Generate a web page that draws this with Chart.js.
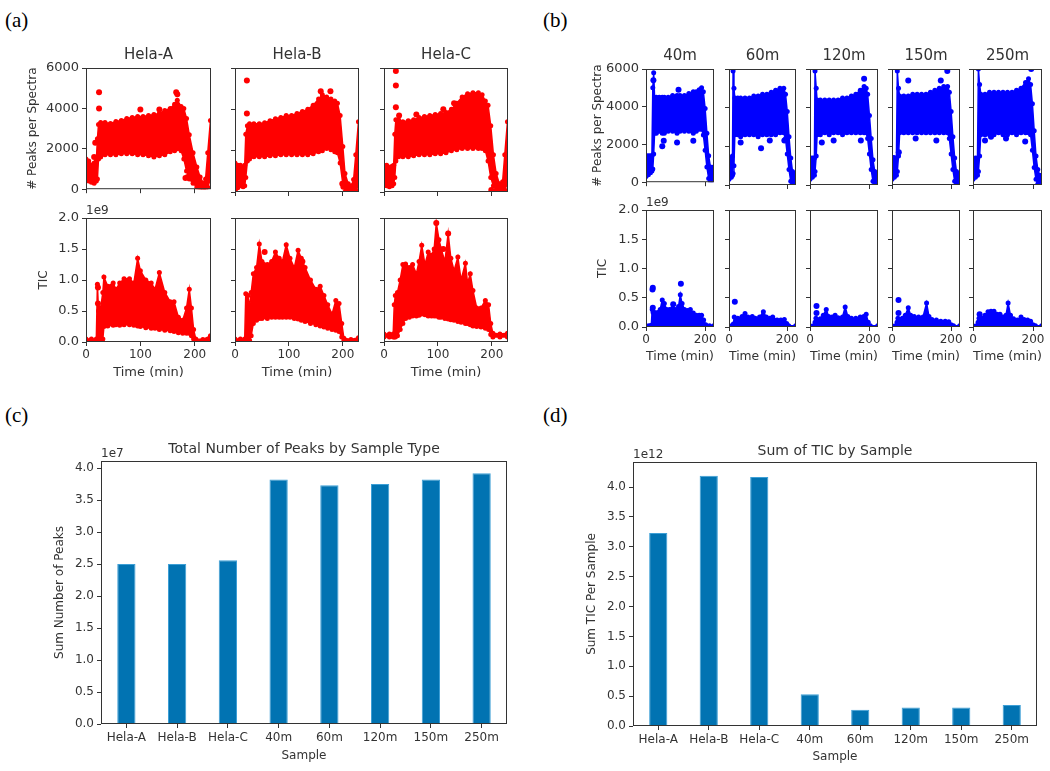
<!DOCTYPE html>
<html>
<head>
<meta charset="utf-8">
<script src="https://cdn.jsdelivr.net/npm/chart.js@4"></script>
<style>
  body { margin: 0; background: #fff; width: 1050px; height: 771px; position: relative; overflow: hidden; }
  canvas { position: absolute; }
  .tag { position: absolute; font-family: "Liberation Serif", serif; font-size: 21px; color: #000; }
</style>
</head>
<body>
<div class="tag" style="left:5px;top:8px">(a)</div>
<div class="tag" style="left:543px;top:8px">(b)</div>
<div class="tag" style="left:5px;top:403px">(c)</div>
<div class="tag" style="left:543px;top:403px">(d)</div>
<script>
// ---- data ----
// scan panels: [time (min), lower edge, upper edge] of the dense point cloud
const helaA_peaks = [[0,500,1500],[5,400,1400],[10,350,1200],[15,300,1300],[19,400,1400],[21,500,2500],[23,1500,3200],[27,1600,3300],[35,1700,3300],[45,1700,3250],[55,1700,3350],[65,1750,3400],[75,1750,3500],[85,1750,3550],[95,1700,3600],[105,1700,3600],[115,1650,3650],[125,1600,3700],[135,1650,3750],[145,1700,3900],[155,1850,4000],[163,1900,4200],[168,2000,4400],[175,1900,4100],[180,1500,4000],[185,900,3500],[190,500,2700],[197,300,1800],[204,100,1100],[210,0,600],[216,0,300],[220,0,500],[224,100,1800],[229,500,3400]];
const helaA_peaks_out = [[17,2300],[15,1600],[24,4800],[24,4000],[100,3950],[135,3950],[166,4800],[168,4700],[183,550],[187,600]];
const helaB_peaks = [[0,100,1400],[5,200,1300],[10,300,1300],[15,250,1200],[18,300,1300],[20,700,2800],[23,1500,3200],[27,1600,3300],[35,1700,3300],[45,1700,3300],[55,1700,3350],[65,1750,3450],[75,1750,3550],[85,1800,3600],[95,1800,3700],[105,1800,3700],[115,1800,3800],[125,1800,3900],[135,1800,4000],[145,1850,4200],[155,1950,4500],[162,2000,4700],[170,2100,4600],[178,2050,4500],[185,1950,4400],[190,1900,4300],[195,1400,3700],[200,400,2200],[204,0,900],[210,0,400],[216,0,300],[220,0,600],[224,100,1800],[229,300,3400]];
const helaB_peaks_out = [[22,5400],[22,3800],[159,4880],[177,4880],[0,150],[199,400],[201,250]];
const helaC_peaks = [[0,300,1300],[5,300,1300],[10,250,1200],[15,300,1250],[18,400,1300],[20,700,2800],[22,1500,3500],[27,1700,3500],[35,1700,3400],[45,1700,3450],[55,1750,3500],[65,1800,3600],[75,1800,3650],[85,1800,3700],[95,1850,3750],[105,1850,3800],[115,1900,3850],[125,2000,4000],[135,2050,4300],[145,2100,4600],[155,2100,4750],[165,2100,4800],[175,2100,4800],[182,2100,4700],[188,2000,4400],[193,1500,4200],[198,700,3200],[203,300,1800],[208,100,900],[214,0,400],[220,0,500],[224,100,1800],[229,400,3400]];
const helaC_peaks_out = [[22,5850],[22,5150],[22,4100],[28,3700],[60,3750],[110,4000],[130,4300],[199,100]];

const helaA_tic = [[0,0.02,0.05],[10,0.02,0.05],[19,0.02,0.05],[21,0.02,0.93],[23,0.02,0.5],[27,0.04,0.55],[31,0.05,0.8],[33,0.25,1.05],[40,0.26,0.9],[50,0.27,0.95],[55,0.28,0.85],[62,0.27,0.95],[70,0.28,1.02],[80,0.28,1.02],[88,0.27,0.95],[95,0.26,1.35],[100,0.25,1.15],[110,0.23,1.0],[120,0.22,0.95],[127,0.22,0.85],[135,0.2,1.12],[145,0.19,0.8],[155,0.18,0.65],[162,0.17,0.65],[170,0.15,0.4],[178,0.14,0.35],[185,0.14,0.55],[190,0.14,0.85],[194,0.1,0.55],[198,0.05,0.2],[202,0.02,0.05],[215,0.02,0.04],[229,0.03,0.1]];
const helaA_tic_out = [[22,0.88],[22,0.62]];
const helaB_tic = [[0,0.02,0.05],[10,0.02,0.05],[18,0.02,0.05],[20,0.02,0.78],[24,0.02,0.75],[27,0.03,0.55],[30,0.1,0.8],[34,0.3,1.1],[40,0.35,1.2],[45,0.38,1.58],[50,0.38,1.3],[60,0.38,1.25],[68,0.4,1.3],[75,0.4,1.45],[82,0.4,1.35],[88,0.4,1.3],[95,0.4,1.57],[102,0.4,1.35],[110,0.38,1.2],[117,0.37,1.48],[123,0.35,1.35],[130,0.33,1.2],[140,0.3,1.0],[150,0.28,0.85],[158,0.26,0.9],[165,0.24,0.75],[172,0.22,0.6],[180,0.2,0.45],[187,0.19,0.67],[193,0.17,0.62],[198,0.08,0.3],[202,0.02,0.06],[215,0.02,0.04],[229,0.02,0.07]];
const helaB_tic_out = [[55,1.45],[125,1.3]];
const helaC_tic = [[0,0.08,0.13],[10,0.08,0.13],[17,0.08,0.13],[19,0.08,0.6],[21,0.08,0.75],[25,0.1,0.8],[30,0.2,1.0],[35,0.3,1.25],[40,0.38,1.26],[47,0.4,1.2],[53,0.42,1.25],[60,0.42,1.1],[65,0.43,1.3],[70,0.45,1.56],[76,0.44,1.25],[82,0.42,1.45],[88,0.42,1.4],[93,0.42,1.5],[97,0.42,1.92],[102,0.4,1.65],[106,0.4,1.5],[113,0.38,1.3],[119,0.37,1.75],[124,0.36,1.35],[130,0.35,1.15],[137,0.33,1.37],[143,0.32,1.0],[151,0.3,1.27],[155,0.3,0.95],[160,0.28,1.1],[165,0.26,0.83],[172,0.25,0.55],[180,0.24,0.55],[188,0.22,0.67],[194,0.2,0.6],[198,0.12,0.3],[202,0.08,0.14],[215,0.08,0.13],[229,0.08,0.14]];
const helaC_tic_out = [[97,1.92],[119,1.75],[110,1.5]];

const m40_peaks = [[0,300,1400],[8,400,1400],[15,500,1400],[20,600,1400],[23,700,5000],[26,1500,5800],[29,2600,4500],[35,2600,4500],[45,2700,4500],[55,2600,4500],[62,2600,4500],[75,2700,4500],[90,2700,4600],[105,2600,4600],[115,2700,4600],[130,2700,4600],[145,2700,4700],[160,2600,4800],[170,2700,4800],[180,2800,4900],[188,2800,5000],[194,2500,4800],[200,1700,3900],[206,800,2600],[212,200,1400],[218,50,800],[224,100,700],[229,200,800]];
const m40_peaks_out = [[55,1900],[105,2100],[160,2200],[60,2200],[110,4900],[25,5400]];
const m60_peaks = [[0,300,1400],[8,400,1400],[12,500,1500],[14,600,5900],[17,1000,5000],[20,2600,4500],[30,2600,4500],[40,2500,4500],[55,2600,4500],[70,2600,4500],[85,2600,4600],[100,2500,4600],[115,2600,4700],[130,2600,4700],[145,2600,4800],[160,2600,4900],[175,2700,5000],[188,2700,5000],[194,2400,4700],[200,1600,3800],[206,800,2500],[212,200,1400],[218,50,700],[224,50,500],[229,100,600]];
const m60_peaks_out = [[40,2200],[110,1900],[140,2300],[190,2300]];
const m120_peaks = [[0,300,1400],[8,400,1400],[15,500,1400],[17,700,5900],[21,1500,5000],[24,2600,4400],[35,2600,4400],[50,2700,4400],[65,2600,4400],[80,2700,4400],[95,2700,4400],[110,2600,4500],[125,2700,4500],[140,2700,4600],[155,2700,4700],[170,2700,4900],[183,2700,5100],[190,2700,5000],[195,2400,4700],[201,1600,3600],[207,800,2400],[213,200,1300],[219,50,700],[224,50,500],[229,100,600]];
const m120_peaks_out = [[40,2200],[172,2300],[183,5500],[80,2300]];
const m150_peaks = [[0,300,1400],[8,400,1400],[15,500,1400],[18,700,5900],[22,1500,5000],[26,2700,4600],[40,2700,4600],[55,2700,4600],[70,2700,4700],[85,2700,4700],[100,2700,4700],[115,2700,4700],[130,2700,4800],[145,2700,4900],[160,2700,5000],[175,2700,5100],[188,2700,5100],[194,2400,4800],[200,1600,3800],[206,800,2500],[212,200,1400],[218,50,700],[224,50,500],[229,100,600]];
const m150_peaks_out = [[5,1400],[23,1700],[80,2400],[150,2300],[55,5400],[165,5400],[187,5900]];
const m250_peaks = [[0,300,1400],[8,400,1400],[15,500,1400],[18,700,6000],[22,1500,5200],[26,2600,4700],[40,2600,4700],[55,2600,4800],[70,2600,4800],[85,2700,4800],[100,2600,4800],[115,2600,4800],[130,2700,4800],[145,2600,4900],[160,2700,5000],[175,2700,5300],[185,2700,5500],[192,2600,5200],[198,1800,4200],[204,900,2800],[210,300,1500],[216,50,800],[222,50,500],[229,100,500]];
const m250_peaks_out = [[40,2300],[110,2400],[174,2250],[194,6000],[60,2500]];

const m40_tic = [[0,0,0.02],[10,0,0.02],[18,0,0.03],[21,0,0.3],[24,0,0.25],[30,0.01,0.25],[40,0.01,0.25],[48,0.01,0.3],[55,0.01,0.46],[62,0.01,0.4],[70,0.01,0.3],[80,0.01,0.3],[90,0.01,0.32],[100,0.01,0.3],[110,0.01,0.35],[116,0.01,0.55],[122,0.01,0.4],[130,0.01,0.3],[140,0.01,0.28],[150,0.01,0.3],[160,0.01,0.24],[170,0.01,0.2],[180,0.01,0.2],[188,0.01,0.2],[195,0.01,0.12],[202,0,0.04],[215,0,0.02],[229,0,0.02]];
const m40_tic_out = [[23,0.67],[22,0.64],[23,0.33],[92,0.39],[118,0.74]];
const m60_tic = [[0,0,0.02],[10,0,0.02],[15,0,0.05],[18,0,0.17],[30,0.01,0.15],[45,0.01,0.18],[55,0.01,0.23],[65,0.01,0.17],[80,0.01,0.18],[90,0.01,0.15],[105,0.01,0.17],[118,0.01,0.26],[128,0.01,0.17],[140,0.01,0.15],[150,0.01,0.17],[165,0.01,0.12],[178,0.01,0.12],[190,0.01,0.13],[198,0,0.06],[205,0,0.02],[229,0,0.02]];
const m60_tic_out = [[20,0.43]];
const m120_tic = [[0,0,0.02],[12,0,0.02],[17,0,0.08],[20,0,0.15],[35,0.01,0.14],[45,0.01,0.2],[55,0.01,0.3],[63,0.01,0.18],[75,0.01,0.17],[85,0.01,0.2],[95,0.01,0.16],[110,0.01,0.17],[119,0.01,0.34],[128,0.01,0.18],[140,0.01,0.15],[155,0.01,0.15],[170,0.01,0.17],[182,0.01,0.18],[190,0.01,0.22],[197,0,0.08],[204,0,0.02],[229,0,0.02]];
const m120_tic_out = [[22,0.36],[22,0.24]];
const m150_tic = [[0,0,0.02],[12,0,0.02],[17,0,0.08],[20,0,0.15],[35,0.01,0.15],[45,0.01,0.2],[55,0.01,0.33],[63,0.01,0.2],[75,0.01,0.18],[90,0.01,0.17],[105,0.01,0.17],[117,0.01,0.41],[125,0.01,0.18],[135,0.01,0.13],[150,0.01,0.12],[165,0.01,0.1],[180,0.01,0.1],[192,0.01,0.09],[200,0,0.04],[208,0,0.02],[229,0,0.02]];
const m150_tic_out = [[22,0.46],[22,0.24]];
const m250_tic = [[0,0,0.02],[12,0,0.02],[17,0,0.08],[20,0,0.15],[30,0.01,0.15],[40,0.01,0.2],[50,0.01,0.26],[60,0.01,0.27],[70,0.01,0.27],[80,0.01,0.22],[90,0.01,0.22],[100,0.01,0.17],[110,0.01,0.2],[117,0.01,0.41],[125,0.01,0.2],[135,0.01,0.14],[148,0.01,0.12],[160,0.01,0.17],[170,0.01,0.13],[182,0.01,0.12],[192,0.01,0.1],[200,0,0.04],[208,0,0.02],[229,0,0.02]];
const m250_tic_out = [[22,0.22]];

// totals
const samples = ['Hela-A', 'Hela-B', 'Hela-C', '40m', '60m', '120m', '150m', '250m'];
const peakTotals = [2.50, 2.50, 2.56, 3.82, 3.73, 3.75, 3.82, 3.92];   // x 1e7
const ticSums = [3.23, 4.19, 4.17, 0.53, 0.27, 0.31, 0.31, 0.35];      // x 1e12

// ticks
const peakTicks = [0, 2000, 4000, 6000];
const ticTicks = [0, 0.5, 1.0, 1.5, 2.0];
const timeTicksA = [0, 100, 200];
const timeTicksB = [0, 200];
const barTicksC = [0, 0.5, 1.0, 1.5, 2.0, 2.5, 3.0, 3.5, 4.0];
const barTicksD = [0, 0.5, 1.0, 1.5, 2.0, 2.5, 3.0, 3.5, 4.0];

// ---- drawing ----
const INK = '#333';
const RED = '#ff0000';
const BLUE = '#0000ff';
const BAR = '#0173b2';
Chart.defaults.font.family = '"DejaVu Sans", sans-serif';
Chart.defaults.color = INK;

const frame = {
  id: 'frame',
  afterDatasetsDraw(chart) {
    const a = chart.chartArea, ctx = chart.ctx;
    ctx.save();
    ctx.strokeStyle = INK;
    ctx.lineWidth = 1;
    ctx.strokeRect(a.left + 0.5, a.top + 0.5, a.right - a.left - 1, a.bottom - a.top - 1);
    ctx.restore();
  }
};

// offset text ("1e9") and a title centred over the plot box, like matplotlib
function decorations(offset, title, titleSize, titleGap) {
  return {
    id: 'decorations',
    afterDraw(chart) {
      const a = chart.chartArea, ctx = chart.ctx;
      ctx.save();
      ctx.fillStyle = INK;
      if (offset) {
        ctx.font = '12px "DejaVu Sans"';
        ctx.textBaseline = 'bottom';
        ctx.textAlign = 'left';
        ctx.fillText(offset, a.left, a.top - 1);
      }
      if (title) {
        ctx.font = titleSize + 'px "DejaVu Sans"';
        ctx.textBaseline = 'middle';
        ctx.textAlign = 'center';
        ctx.fillText(title, (a.left + a.right) / 2, a.top - titleGap);
      }
      ctx.restore();
    }
  };
}

function addCanvas(left, top, width, height) {
  const c = document.createElement('canvas');
  c.width = width;
  c.height = height;
  c.style.left = left + 'px';
  c.style.top = top + 'px';
  c.style.width = width + 'px';
  c.style.height = height + 'px';
  document.body.appendChild(c);
  return c;
}

function fixedTicks(list) {
  return s => { s.ticks = list.map(v => ({ value: v })); };
}

function scanPanel(p) {
  const rightPad = 6;
  const w = p.box[2] - p.box[0], h = p.box[3] - p.box[1];
  const canvas = addCanvas(p.box[0] - p.yW, p.box[1] - p.topH, p.yW + w + rightPad, p.topH + h + p.xH);
  const pts = { pointRadius: 2.5, pointBorderWidth: 0, pointBackgroundColor: p.color, borderColor: p.color, borderWidth: 1.5 };
  new Chart(canvas, {
    type: 'line',
    data: {
      datasets: [
        Object.assign({ data: p.band.map(r => ({ x: r[0], y: r[2] })), fill: '+1', backgroundColor: p.color }, pts),
        Object.assign({ data: p.band.map(r => ({ x: r[0], y: r[1] })), fill: false }, pts),
        { data: p.out.map(r => ({ x: r[0], y: r[1] })), showLine: false, pointRadius: 3, pointBorderWidth: 0, pointBackgroundColor: p.color }
      ]
    },
    options: {
      responsive: false,
      animation: false,
      devicePixelRatio: 1,
      layout: { padding: { top: p.topH, right: rightPad, left: 0, bottom: 0 } },
      plugins: { legend: { display: false }, tooltip: { enabled: false } },
      scales: {
        x: {
          type: 'linear', min: 0, max: 230,
          afterFit: s => { s.height = p.xH; },
          afterBuildTicks: fixedTicks(p.xTicks),
          ticks: { display: p.xLabels, padding: 2, maxRotation: 0, autoSkip: false, font: { size: 12 }, callback: v => String(v) },
          grid: { drawOnChartArea: false, tickLength: 4, color: INK },
          border: { display: false },
          title: { display: p.xLabels, text: 'Time (min)', padding: 0, font: { size: 13 } }
        },
        y: {
          min: 0, max: p.yMax,
          afterFit: s => { s.width = p.yW; },
          afterBuildTicks: fixedTicks(p.yTicks),
          ticks: { display: !!p.yLabel, padding: 3, font: { size: 13 }, callback: p.fmt },
          grid: { drawOnChartArea: false, tickLength: 4, color: INK },
          border: { display: false },
          title: { display: !!p.yLabel, text: p.yLabel, padding: 0, font: { size: 12 } }
        }
      }
    },
    plugins: [frame, decorations(p.offset, p.title, 15, 13)]
  });
}

function barPanel(p) {
  const rightPad = 8;
  const w = p.box[2] - p.box[0], h = p.box[3] - p.box[1];
  const canvas = addCanvas(p.box[0] - p.yW, p.box[1] - p.topH, p.yW + w + rightPad, p.topH + h + p.xH);
  new Chart(canvas, {
    type: 'bar',
    data: {
      labels: samples,
      datasets: [{ data: p.values, backgroundColor: BAR, borderColor: '#3d9fd6', borderWidth: 1, barPercentage: 0.36, categoryPercentage: 1 }]
    },
    options: {
      responsive: false,
      animation: false,
      devicePixelRatio: 1,
      layout: { padding: { top: p.topH, right: rightPad, left: 0, bottom: 0 } },
      plugins: { legend: { display: false }, tooltip: { enabled: false } },
      scales: {
        x: {
          afterFit: s => { s.height = p.xH; },
          ticks: { padding: 3, maxRotation: 0, autoSkip: false, font: { size: 12 } },
          grid: { offset: false, drawOnChartArea: false, tickLength: 4, color: INK },
          border: { display: false },
          title: { display: true, text: 'Sample', padding: 0, font: { size: 12 } }
        },
        y: {
          min: 0, max: p.yMax,
          afterFit: s => { s.width = p.yW; },
          afterBuildTicks: fixedTicks(p.yTicks),
          ticks: { padding: 3, font: { size: 12 }, callback: v => v.toFixed(1) },
          grid: { drawOnChartArea: false, tickLength: 4, color: INK },
          border: { display: false },
          title: { display: true, text: p.yLabel, padding: 0, font: { size: 12 } }
        }
      }
    },
    plugins: [frame, decorations(p.offset, p.title, 14, p.titleGap)]
  });
}

const fmtPeaks = v => String(v);
const fmtTic = v => v.toFixed(1);

// (a) Hela runs
const helaCols = [[86, 211], [235, 359], [384, 508]];
const helaNames = ['Hela-A', 'Hela-B', 'Hela-C'];
const helaPeaks = [[helaA_peaks, helaA_peaks_out], [helaB_peaks, helaB_peaks_out], [helaC_peaks, helaC_peaks_out]];
const helaTic = [[helaA_tic, helaA_tic_out], [helaB_tic, helaB_tic_out], [helaC_tic, helaC_tic_out]];
helaCols.forEach((c, i) => {
  scanPanel({
    box: [c[0], 68, c[1], 192], yW: i === 0 ? 60 : 6, topH: 24, xH: 8,
    band: helaPeaks[i][0], out: helaPeaks[i][1], color: RED, title: helaNames[i],
    yMax: 6000, yTicks: peakTicks, xTicks: timeTicksA, xLabels: false,
    yLabel: i === 0 ? '# Peaks per Spectra' : '', fmt: fmtPeaks
  });
  scanPanel({
    box: [c[0], 218, c[1], 342], yW: i === 0 ? 49 : 6, topH: 16, xH: 38,
    band: helaTic[i][0], out: helaTic[i][1], color: RED,
    yMax: 2.0, yTicks: ticTicks, xTicks: timeTicksA, xLabels: true,
    yLabel: i === 0 ? 'TIC' : '', fmt: fmtTic, offset: i === 0 ? '1e9' : ''
  });
});

// (b) gradient lengths
const gradCols = [[646, 714], [729, 796], [810, 878], [892, 960], [973, 1042]];
const gradNames = ['40m', '60m', '120m', '150m', '250m'];
const gradPeaks = [[m40_peaks, m40_peaks_out], [m60_peaks, m60_peaks_out], [m120_peaks, m120_peaks_out], [m150_peaks, m150_peaks_out], [m250_peaks, m250_peaks_out]];
const gradTic = [[m40_tic, m40_tic_out], [m60_tic, m60_tic_out], [m120_tic, m120_tic_out], [m150_tic, m150_tic_out], [m250_tic, m250_tic_out]];
gradCols.forEach((c, i) => {
  scanPanel({
    box: [c[0], 69, c[1], 185], yW: i === 0 ? 55 : 6, topH: 22, xH: 8,
    band: gradPeaks[i][0], out: gradPeaks[i][1], color: BLUE, title: gradNames[i],
    yMax: 6000, yTicks: peakTicks, xTicks: timeTicksB, xLabels: false,
    yLabel: i === 0 ? '# Peaks per Spectra' : '', fmt: fmtPeaks
  });
  scanPanel({
    box: [c[0], 210, c[1], 327], yW: i === 0 ? 50 : 6, topH: 16, xH: 37,
    band: gradTic[i][0], out: gradTic[i][1], color: BLUE,
    yMax: 2.0, yTicks: ticTicks, xTicks: timeTicksB, xLabels: true,
    yLabel: i === 0 ? 'TIC' : '', fmt: fmtTic, offset: i === 0 ? '1e9' : ''
  });
});

// (c) and (d) totals
barPanel({
  box: [101, 461, 507, 724], yW: 48, topH: 24, xH: 39, titleGap: 12,
  values: peakTotals, yMax: 4.11, yTicks: barTicksC,
  title: 'Total Number of Peaks by Sample Type', yLabel: 'Sum Number of Peaks', offset: '1e7'
});
barPanel({
  box: [633, 462, 1037, 726], yW: 48, topH: 24, xH: 38, titleGap: 11,
  values: ticSums, yMax: 4.42, yTicks: barTicksD,
  title: 'Sum of TIC by Sample', yLabel: 'Sum TIC Per Sample', offset: '1e12'
});
</script>
</body>
</html>
